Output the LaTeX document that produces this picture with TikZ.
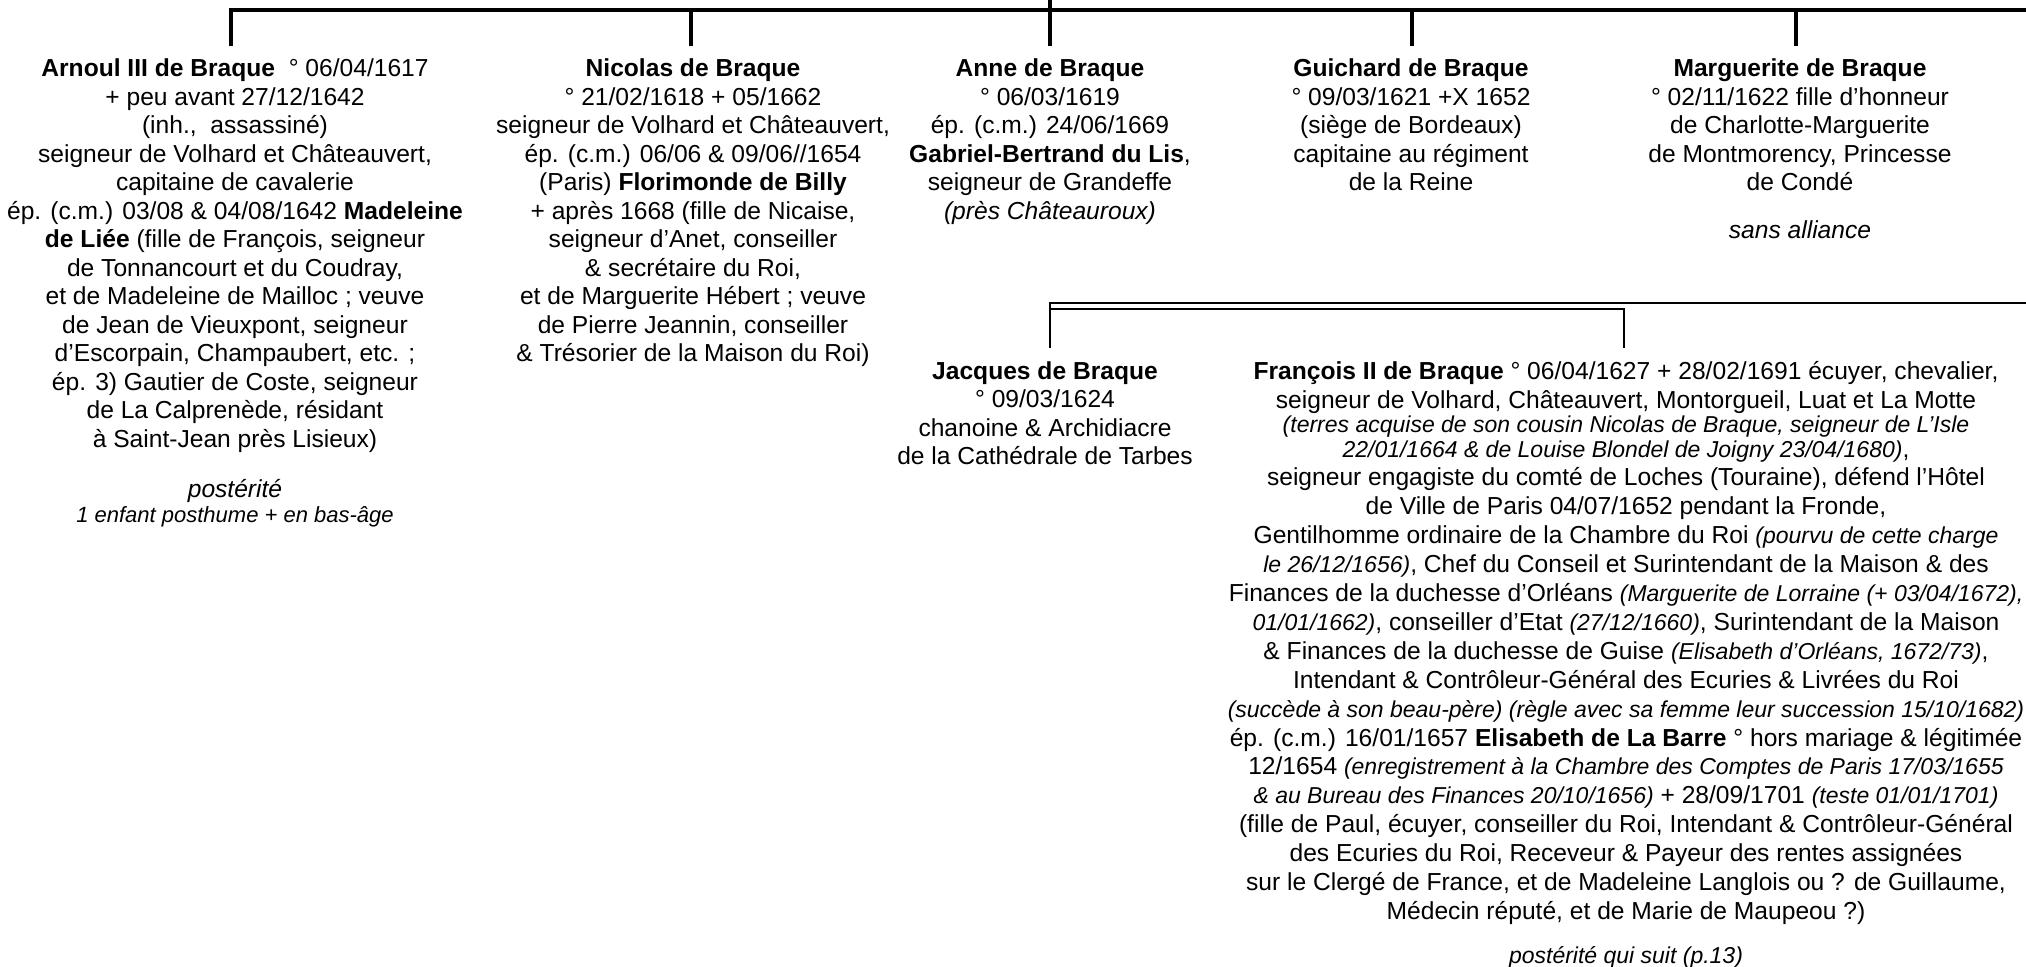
\documentclass[tikz,border=0pt]{standalone}
\usepackage{fontspec}
\setmainfont{Liberation Sans}
\newcommand{\sit}[1]{{\fontsize{11.5}{14.25}\selectfont\itshape #1}}
\begin{document}
\begin{tikzpicture}[x=0.5pt,y=-0.5pt,
  person/.style={anchor=north, align=center, inner sep=0pt, font=\fontsize{12.3}{14.25}\selectfont},
  tree/.style={line width=1.6pt, line join=miter},
  dbl/.style={line width=1.3pt, line join=miter}]
\useasboundingbox (0,0) rectangle (2026,966);

% ---- first generation bar
\coordinate (parent) at (1050,0);
\coordinate (barL) at (231,10);
\coordinate (barR) at (2026,10);
\coordinate (dArnoul) at (231,46);
\coordinate (tNicolas) at (691,10);  \coordinate (dNicolas) at (691,46);
\coordinate (dAnne) at (1050,46);
\coordinate (tGuichard) at (1412,10); \coordinate (dGuichard) at (1412,46);
\coordinate (tMarguerite) at (1796,10); \coordinate (dMarguerite) at (1796,46);

\draw[tree] (dArnoul) -- (barL) -- (barR);
\draw[tree] (parent) -- (dAnne);
\draw[tree] (tNicolas) -- (dNicolas);
\draw[tree] (tGuichard) -- (dGuichard);
\draw[tree] (tMarguerite) -- (dMarguerite);

% ---- second bar (double)
\coordinate (dJacques) at (1050,348);
\coordinate (oL) at (1050,303);
\coordinate (oR) at (2026,303);
\coordinate (iL) at (1050,309);
\coordinate (iR) at (1624,309);
\coordinate (dFrancois) at (1624,348);
\draw[dbl] (dJacques) -- (oL) -- (oR);
\draw[dbl] (iL) -- (iR) -- (dFrancois);

% ---- persons
\node[person] (arnoul) at (235,58.5) {\textbf{Arnoul III de Braque}\ \ ° 06/04/1617\\
+ peu avant 27/12/1642\\
(inh.,\ \ assassiné)\\
seigneur de Volhard et Châteauvert,\\
capitaine de cavalerie\\
ép. (c.m.) 03/08 \& 04/08/1642 \textbf{Madeleine}\\
\textbf{de Liée} (fille de François, seigneur\\
de Tonnancourt et du Coudray,\\
et de Madeleine de Mailloc ; veuve\\
de Jean de Vieuxpont, seigneur\\
d’Escorpain, Champaubert, etc. ;\\
ép. 3) Gautier de Coste, seigneur\\
de La Calprenède, résidant\\
à Saint-Jean près Lisieux)\\[10.8pt]
\textit{postérité}\\[-1.75pt]
{\fontsize{11}{12.5}\selectfont\itshape 1 enfant posthume + en bas-âge}};

\node[person] (nicolas) at (693,58.5) {\textbf{Nicolas de Braque}\\
° 21/02/1618 + 05/1662\\
seigneur de Volhard et Châteauvert,\\
ép. (c.m.) 06/06 \& 09/06//1654\\
(Paris) \textbf{Florimonde de Billy}\\
+ après 1668 (fille de Nicaise,\\
seigneur d’Anet, conseiller\\
\& secrétaire du Roi,\\
et de Marguerite Hébert ; veuve\\
de Pierre Jeannin, conseiller\\
\& Trésorier de la Maison du Roi)};

\node[person] (anne) at (1050,58.5) {\textbf{Anne de Braque}\\
° 06/03/1619\\
ép. (c.m.) 24/06/1669\\
\textbf{Gabriel-Bertrand du Lis},\\
seigneur de Grandeffe\\
\textit{(près Châteauroux)}};

\node[person] (guichard) at (1411,58.5) {\textbf{Guichard de Braque}\\
° 09/03/1621 +X 1652\\
(siège de Bordeaux)\\
capitaine au régiment\\
de la Reine};

\node[person] (marguerite) at (1800,58.5) {\textbf{Marguerite de Braque}\\
° 02/11/1622 fille d’honneur\\
de Charlotte-Marguerite\\
de Montmorency, Princesse\\
de Condé\\[9.75pt]
\textit{sans alliance}};

\node[person] (jacques) at (1045,361) {\textbf{Jacques de Braque}\\
° 09/03/1624\\
chanoine \& Archidiacre\\
de la Cathédrale de Tarbes};

\node[person, font=\fontsize{12.3}{14.45}\selectfont] (francois) at (1626,361) {\textbf{François II de Braque} ° 06/04/1627 + 28/02/1691 écuyer, chevalier,\\
seigneur de Volhard, Châteauvert, Montorgueil, Luat et La Motte\\[-2.3pt]
\sit{(terres acquise de son cousin Nicolas de Braque, seigneur de L’Isle}\\[-2.3pt]
\sit{22/01/1664 \& de Louise Blondel de Joigny 23/04/1680)},\\
seigneur engagiste du comté de Loches (Touraine), défend l’Hôtel\\
de Ville de Paris 04/07/1652 pendant la Fronde,\\
Gentilhomme ordinaire de la Chambre du Roi \sit{(pourvu de cette charge}\\
\sit{le 26/12/1656)}, Chef du Conseil et Surintendant de la Maison \& des\\
Finances de la duchesse d’Orléans \sit{(Marguerite de Lorraine (+ 03/04/1672),}\\
\sit{01/01/1662)}, conseiller d’Etat \sit{(27/12/1660)}, Surintendant de la Maison\\
\& Finances de la duchesse de Guise \sit{(Elisabeth d’Orléans, 1672/73)},\\
Intendant \& Contrôleur-Général des Ecuries \& Livrées du Roi\\
\sit{(succède à son beau-père) (règle avec sa femme leur succession 15/10/1682)}\\
ép. (c.m.) 16/01/1657 \textbf{Elisabeth de La Barre} ° hors mariage \& légitimée\\
12/1654 \sit{(enregistrement à la Chambre des Comptes de Paris 17/03/1655}\\
\sit{\& au Bureau des Finances 20/10/1656)} + 28/09/1701 \sit{(teste 01/01/1701)}\\
(fille de Paul, écuyer, conseiller du Roi, Intendant \& Contrôleur-Général\\
des Ecuries du Roi, Receveur \& Payeur des rentes assignées\\
sur le Clergé de France, et de Madeleine Langlois ou ? de Guillaume,\\
Médecin réputé, et de Marie de Maupeou ?)\\[7.5pt]
\sit{postérité qui suit (p.13)}};
\end{tikzpicture}
\end{document}
